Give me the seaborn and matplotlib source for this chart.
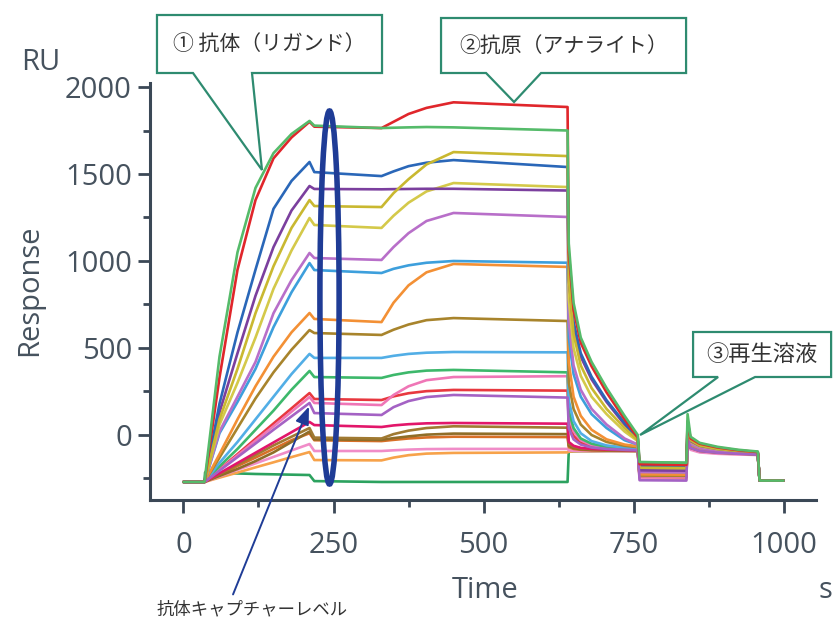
import pandas as pd
import seaborn as sns
import matplotlib.pyplot as plt
from matplotlib.patches import Ellipse, Polygon

# time grid (s) shared by every sensorgram
time_s = [0, 35, 36, 60, 90, 120, 150, 180, 210, 218, 330, 350, 375, 405, 450,
          640, 642, 650, 662, 680, 705, 735, 757, 760, 838, 840, 845, 860, 890,
          925, 957, 960, 1000]

# response (RU) per curve
green_top = [-270, -270, -240, 450, 1050, 1420, 1620, 1730, 1805, 1778, 1764, 1766, 1768, 1770, 1768,
             1750, 1100, 760, 560, 420, 270, 110, 0, -155, -160, 120, -10, -45, -68, -85, -95, -262, -262]
red = [-270, -270, -250, 330, 950, 1350, 1590, 1710, 1800, 1772, 1764, 1800, 1845, 1880, 1912,
       1885, 1050, 720, 530, 395, 245, 90, -15, -168, -172, 80, -20, -50, -72, -88, -98, -262, -262]
yellow1 = [-270, -270, -262, 90, 380, 700, 970, 1190, 1350, 1316, 1310, 1390, 1470, 1555, 1626,
           1603, 900, 580, 400, 270, 150, 40, -30, -188, -190, 40, -30, -60, -80, -92, -100, -262, -262]
blue = [-270, -270, -255, 180, 590, 950, 1300, 1460, 1569, 1511, 1488, 1515, 1545, 1565, 1580,
        1540, 950, 650, 470, 335, 200, 70, -20, -178, -180, 60, -20, -55, -75, -90, -98, -262, -262]
yellow2 = [-270, -270, -262, 60, 300, 560, 840, 1060, 1247, 1207, 1190, 1260, 1335, 1400, 1448,
           1425, 780, 500, 340, 220, 120, 20, -35, -198, -200, 20, -40, -65, -82, -93, -102, -262, -262]
purple = [-270, -270, -258, 130, 470, 800, 1080, 1290, 1431, 1414, 1412, 1413, 1414, 1415, 1415,
          1405, 900, 620, 450, 320, 190, 60, -20, -203, -205, 30, -35, -62, -80, -92, -100, -262, -262]
orchid = [-270, -270, -262, 20, 220, 420, 700, 890, 1046, 1017, 1006, 1080, 1160, 1230, 1276,
          1253, 650, 400, 260, 150, 60, -20, -55, -213, -215, 10, -50, -75, -90, -100, -108, -262, -262]
lightblue = [-270, -270, -262, 10, 190, 380, 620, 820, 988, 948, 931, 955, 975, 990, 1000,
             990, 560, 350, 220, 120, 40, -30, -55, -208, -210, 10, -50, -72, -88, -98, -105, -262, -262]
orange = [-270, -270, -265, -110, 90, 280, 450, 590, 701, 667, 649, 760, 860, 935, 983,
          966, 420, 220, 110, 30, -25, -55, -65, -226, -228, 0, -55, -78, -92, -100, -106, -262, -262]
brown = [-270, -270, -265, -130, 40, 210, 360, 490, 603, 586, 575, 605, 635, 660, 672,
         655, 300, 150, 60, 0, -40, -62, -70, -233, -235, -5, -58, -80, -93, -101, -107, -262, -262]
lightblue2 = [-270, -270, -266, -160, -40, 90, 220, 350, 466, 443, 443, 455, 466, 473, 477,
              475, 200, 80, 10, -35, -60, -72, -78, -220, -222, -10, -62, -82, -95, -102, -108, -262, -262]
green2 = [-270, -270, -266, -180, -80, 30, 140, 260, 368, 333, 328, 345, 360, 370, 374,
          360, 140, 40, -20, -50, -68, -77, -80, -198, -200, -5, -60, -80, -93, -101, -107, -262, -262]
pink = [-270, -270, -267, -200, -117, -33, 50, 134, 218, 184, 172, 230, 280, 315, 333,
        338, 110, 20, -30, -58, -72, -80, -84, -238, -240, -15, -65, -85, -97, -104, -110, -262, -262]
red2 = [-270, -270, -267, -197, -110, -22, 66, 153, 241, 207, 201, 222, 240, 252, 259,
        255, 70, -5, -45, -65, -76, -82, -85, -174, -176, -10, -62, -83, -95, -103, -108, -262, -262]
purple2 = [-270, -270, -267, -205, -127, -49, 30, 107, 184, 126, 115, 160, 195, 218, 230,
           215, 40, -25, -55, -72, -80, -85, -88, -260, -262, -25, -75, -92, -102, -108, -113, -262, -262]
crimson = [-270, -270, -268, -220, -161, -102, -43, 16, 75, 57, 46, 55, 62, 67, 69,
           65, -40, -62, -74, -80, -84, -87, -89, -180, -182, -15, -66, -85, -97, -104, -109, -262, -262]
brown2 = [-270, -270, -268, -225, -170, -115, -60, -10, 40, -15, -20, 5, 25, 40, 50,
          42, -50, -68, -77, -82, -86, -88, -90, -230, -232, -20, -70, -88, -99, -105, -110, -262, -262]
brown3 = [-270, -270, -268, -235, -195, -150, -100, -40, 20, -25, -28, -18, -8, 2, 8,
          5, -62, -75, -82, -86, -88, -90, -91, -236, -238, -22, -72, -90, -100, -106, -111, -262, -262]
orangebrown = [-270, -270, -268, -230, -178, -130, -80, -30, 10, -30, -35, -28, -20, -14, -10,
               -12, -70, -80, -85, -88, -90, -91, -92, -240, -242, -25, -75, -92, -102, -107, -112, -262, -262]
pink2 = [-270, -270, -269, -238, -200, -163, -126, -89, -52, -92, -92, -88, -84, -81, -80,
         -80, -88, -91, -92, -92, -92, -92, -92, -253, -255, -35, -85, -100, -108, -112, -115, -262, -262]
orange2 = [-270, -270, -269, -245, -216, -186, -157, -127, -98, -144, -146, -130, -116, -107, -103,
           -100, -96, -94, -93, -93, -92, -92, -92, -246, -248, -30, -80, -96, -105, -110, -114, -262, -262]
green_bottom = [-270, -270, -215, -218, -221, -224, -226, -228, -230, -265, -270, -270, -270, -270, -270,
                -270, -96, -94, -93, -93, -92, -92, -92, -158, -160, -20, -70, -88, -98, -104, -108, -262, -262]

# drawing order (first = underneath) and colours
curve_names = ["green_bottom", "orange2", "pink2", "orangebrown", "brown3", "brown2", "crimson",
               "red2", "pink", "green2", "lightblue2", "brown", "orange", "lightblue", "orchid",
               "yellow2", "purple", "blue", "yellow1", "purple2", "red", "green_top"]
curve_values = [green_bottom, orange2, pink2, orangebrown, brown3, brown2, crimson,
                red2, pink, green2, lightblue2, brown, orange, lightblue, orchid,
                yellow2, purple, blue, yellow1, purple2, red, green_top]
curve_colors = ["#2ca25f", "#f7a24a", "#f08cc8", "#d86f27", "#8f6d28", "#a07a32", "#e2166a",
                "#e8383f", "#ef76b6", "#3db86b", "#52aee6", "#a8842c", "#f39035", "#3d9fdc", "#b86fc9",
                "#d4c94a", "#7b3f9e", "#2a67b8", "#c9b830", "#a462c4", "#e0262b", "#55bb6a"]

rows = []
for name, vals in zip(curve_names, curve_values):
    for t, v in zip(time_s, vals):
        rows.append({"Time": t, "Response": v, "curve": name})
df = pd.DataFrame(rows)

sns.set_theme(style="ticks")
plt.rcParams["font.family"] = ["Open Sans", "Noto Sans CJK JP", "DejaVu Sans"]

JP = ["Noto Sans CJK JP", "DejaVu Sans"]
axis_col = "#3b4856"
text_col = "#46525e"
teal = "#2e8b70"
navy = "#1f3c96"

fig = plt.figure(figsize=(8.33, 6.22), dpi=100)
ax = fig.add_axes([150 / 833, 1 - 500 / 622, 666 / 833, 417 / 622])

sns.lineplot(data=df, x="Time", y="Response", hue="curve", hue_order=curve_names,
             palette=dict(zip(curve_names, curve_colors)), estimator=None, sort=False,
             legend=False, linewidth=1.9, ax=ax)

ax.set_xlim(-55.8, 1054)
ax.set_ylim(-373.6, 2023)
ax.set_xticks([0, 250, 500, 750, 1000])
ax.set_xticks([125, 375, 625, 875], minor=True)
ax.set_yticks([0, 500, 1000, 1500, 2000])
ax.set_yticks([-250, 250, 750, 1250, 1750], minor=True)
ax.tick_params(axis="both", which="major", length=9, width=2, color=axis_col,
               labelsize=21, labelcolor=text_col, direction="out", bottom=True, left=True)
ax.tick_params(axis="both", which="minor", length=5, width=2, color=axis_col,
               direction="out", bottom=True, left=True)
ax.tick_params(axis="x", which="major", pad=13)
ax.tick_params(axis="y", which="major", pad=4)
ax.set_xlabel("")
ax.set_ylabel("")
sns.despine(ax=ax)
for side in ["left", "bottom"]:
    ax.spines[side].set_color(axis_col)
    ax.spines[side].set_linewidth(2.2)

fig.text(41 / 833, 1 - 62 / 622, "RU", fontsize=21, color=text_col, ha="center", va="center")
fig.text(30 / 833, 1 - 290 / 622, "Response", fontsize=21, color=text_col,
         ha="center", va="center", rotation=90)
fig.text(485 / 833, 1 - 590 / 622, "Time", fontsize=21, color=text_col, ha="center", va="center")
fig.text(825 / 833, 1 - 590 / 622, "s", fontsize=21, color=text_col, ha="center", va="center")


def px(x, y):
    # pixel position in the picture -> data coordinates
    return ((x - 183.5) * 5 / 3, (435 - y) * 500 / 87)


def callout(x0, x1, y0, y1, b0, b1, tip, label, size):
    pts = [px(x0, y0), px(x1, y0), px(x1, y1), px(b1, y1), px(*tip), px(b0, y1), px(x0, y1)]
    ax.add_patch(Polygon(pts, closed=True, facecolor="white", edgecolor=teal,
                         linewidth=1.6, clip_on=False, zorder=10))
    cx, cy = px((x0 + x1) / 2, (y0 + y1) / 2)
    ax.text(cx, cy, label, fontsize=size, family=JP, color="#333333",
            ha="center", va="center", zorder=11, clip_on=False)


callout(157, 382, 15, 73, 193, 252, (262, 170), "① 抗体（リガンド）", 15)
callout(441, 686, 18, 73, 486, 541, (514, 102), "②抗原（アナライト）", 15)
callout(693, 831, 332, 377, 718, 755, (640, 435), "③再生溶液", 16)

ax.add_patch(Ellipse(px(329.5, 297.5), width=32, height=2144, fill=False,
                     edgecolor=navy, linewidth=4, zorder=12, clip_on=False))

ax.annotate("", xy=px(310, 404), xytext=px(232, 597), annotation_clip=False,
            arrowprops=dict(arrowstyle="-|>,head_length=0.9,head_width=0.35",
                            color=navy, linewidth=1.4), zorder=12)
tx, ty = px(252, 609)
ax.text(tx, ty, "抗体キャプチャーレベル", fontsize=12.5, family=JP, color="#333333",
        ha="center", va="center", clip_on=False)

fig.savefig("out.png", dpi=100)
